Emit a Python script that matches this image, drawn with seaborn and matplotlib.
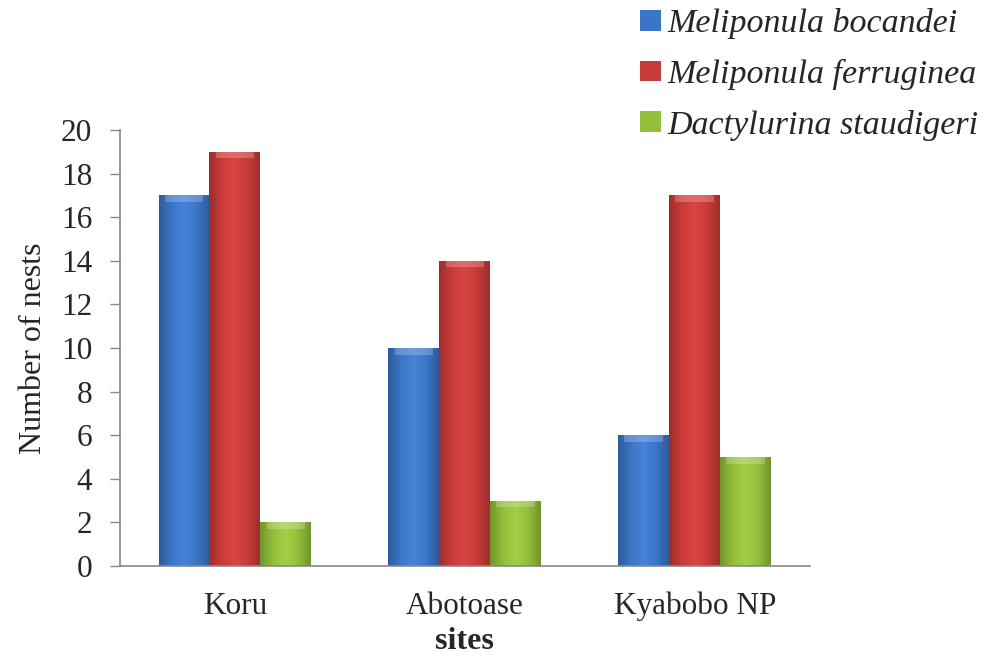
import numpy as np
import pandas as pd
import matplotlib
matplotlib.use("Agg")
import matplotlib.pyplot as plt
import seaborn as sns
from matplotlib.colors import LinearSegmentedColormap, to_rgb

sites = ["Koru", "Abotoase", "Kyabobo NP"]
species = ["Meliponula bocandei", "Meliponula ferruginea", "Dactylurina staudigeri"]
bocandei = [17, 10, 6]
ferruginea = [19, 14, 17]
staudigeri = [2, 3, 5]
colors = ["#3b76c6", "#c93b39", "#93bf3a"]

df = pd.DataFrame({
    "site": sites * 3,
    "species": [species[0]] * 3 + [species[1]] * 3 + [species[2]] * 3,
    "nests": bocandei + ferruginea + staudigeri,
})

sns.set_style("white")
plt.rcParams["font.family"] = ["Liberation Serif", "DejaVu Serif"]

fig = plt.figure(figsize=(9.96, 6.63), dpi=100)
ax = fig.add_axes([0.1205, 0.1463, 0.6925, 0.6577])

sns.barplot(data=df, x="site", y="nests", hue="species", hue_order=species,
            palette=colors, width=0.665, gap=0, ax=ax, legend=False,
            saturation=1, edgecolor="none")

# shaded, bevelled look for each bar
def shade(c):
    r, g, b = to_rgb(c)
    dark = (r * 0.78, g * 0.78, b * 0.78)
    light = tuple(min(1, v * 1.05 + 0.03) for v in (r, g, b))
    return LinearSegmentedColormap.from_list("s", [dark, (r, g, b), light, (r, g, b), dark])

for i, cont in enumerate(ax.containers):
    cmap = shade(colors[i])
    for p in cont.patches:
        x0, y0 = p.get_x(), p.get_y()
        w, h = p.get_width(), p.get_height()
        grad = np.linspace(0, 1, 64).reshape(1, -1)
        im = ax.imshow(grad, cmap=cmap, aspect="auto",
                       extent=[x0, x0 + w, y0, y0 + h], zorder=p.get_zorder() + 0.1)
        im.set_clip_path(p)
        # top highlight strip
        ax.fill_between([x0 + w * 0.12, x0 + w * 0.88], y0 + h - 0.3, y0 + h,
                        color="white", alpha=0.22, lw=0,
                        zorder=p.get_zorder() + 0.2)

ax.set_xlim(-0.5, 2.5)
ax.set_ylim(0, 20)
ax.set_yticks(range(0, 21, 2))
ax.tick_params(axis="y", labelsize=22.5, length=7, width=1, color="#888888",
               direction="out", left=True, pad=13)
ax.tick_params(axis="x", labelsize=22.5, bottom=False, pad=15)
for s in ["top", "right"]:
    ax.spines[s].set_visible(False)
for s in ["left", "bottom"]:
    ax.spines[s].set_color("#888888")
    ax.spines[s].set_linewidth(1.2)

ax.set_ylabel("Number of nests", fontsize=23, labelpad=9)
ax.set_xlabel("sites", fontsize=23, fontweight="bold", labelpad=4)

handles = [plt.Rectangle((0, 0), 1, 1, facecolor=c, edgecolor="none") for c in colors]
fig.legend(handles, species, loc="upper right", bbox_to_anchor=(1.003, 1.018),
           frameon=False, prop={"family": ["Liberation Serif"], "style": "italic", "size": 24.5},
           handlelength=0.6, handleheight=0.55, handletextpad=0.2, labelspacing=0.575,
           borderaxespad=0.2)

fig.savefig("out.png", dpi=100)
